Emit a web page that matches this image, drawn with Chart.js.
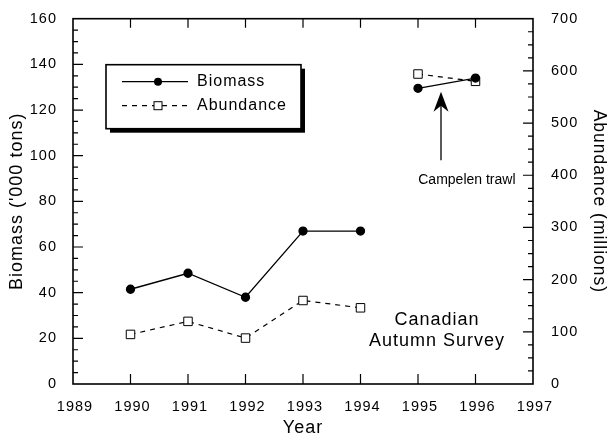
<!DOCTYPE html>
<html>
<head>
<meta charset="utf-8">
<script src="https://cdn.jsdelivr.net/npm/chart.js@4.4.1/dist/chart.umd.min.js"></script>
<style>
  html, body { margin: 0; padding: 0; background: #fff; }
  #wrap { width: 610px; height: 438px; }
</style>
</head>
<body>
<div id="wrap"><canvas id="chart" width="610" height="438"></canvas></div>
<script>
const years = [1990, 1991, 1992, 1993, 1994, 1995, 1996]
const biomass = [41.5, 48.5, 38, 67, 67, 129.5, 134]
const abundance = [95, 120, 88, 160, 146, 594, 580]
const yearTicks = [1989, 1990, 1991, 1992, 1993, 1994, 1995, 1996, 1997]
const biomassTicks = [0, 20, 40, 60, 80, 100, 120, 140, 160]
const abundanceTicks = [0, 100, 200, 300, 400, 500, 600, 700]
// last index of the Canadian autumn survey, the Campelen trawl points follow it
const surveyEnd = 4

const FONT = "'Liberation Sans', Arial, sans-serif"

// no line between the two survey series
const gapSegment = ctx => ctx.p0DataIndex === surveyEnd ? 'rgba(0,0,0,0)' : '#000'

const setTicks = list => scale => { scale.ticks = list.map(v => ({ value: v })) }

// box frame with inward tick marks, like the printed figure
const frameTicks = {
  id: 'frameTicks',
  beforeDraw(chart) {
    chart.ctx.letterSpacing = '1px'
  },
  afterDatasetsDraw(chart) {
    const { ctx, chartArea: a, scales } = chart
    ctx.save()
    ctx.strokeStyle = '#000'
    ctx.lineWidth = 1.2
    ctx.beginPath()
    yearTicks.slice(1, -1).forEach(v => {
      const x = scales.x.getPixelForValue(v)
      ctx.moveTo(x, a.bottom); ctx.lineTo(x, a.bottom - 10)
      ctx.moveTo(x, a.top); ctx.lineTo(x, a.top + 9)
    })
    for (let v = 5; v < 160; v += 5) {
      const y = scales.y.getPixelForValue(v)
      ctx.moveTo(a.left, y); ctx.lineTo(a.left + (v % 20 === 0 ? 10 : 5), y)
    }
    for (let v = 25; v < 700; v += 25) {
      const y = scales.y1.getPixelForValue(v)
      ctx.moveTo(a.right, y); ctx.lineTo(a.right - (v % 100 === 0 ? 10 : 5), y)
    }
    ctx.stroke()
    ctx.lineWidth = 1.6
    ctx.strokeRect(a.left, a.top, a.right - a.left, a.bottom - a.top)
    ctx.restore()
  }
}

// legend box with drop shadow and the two notes
const notes = {
  id: 'notes',
  afterDraw(chart) {
    const { ctx, chartArea: a, scales } = chart
    const x0 = a.left + 33, y0 = a.top + 46, w = 195, h = 64
    ctx.save()
    ctx.fillStyle = '#000'
    ctx.fillRect(x0 + 4, y0 + 4, w, h)
    ctx.fillStyle = '#fff'
    ctx.fillRect(x0, y0, w, h)
    ctx.strokeStyle = '#000'
    ctx.lineWidth = 1.6
    ctx.strokeRect(x0, y0, w, h)

    ctx.font = '16px ' + FONT
    ctx.textBaseline = 'middle'
    ctx.textAlign = 'left'
    chart.data.datasets.forEach((ds, i) => {
      const y = y0 + 17 + i * 24
      ctx.lineWidth = 1.2
      ctx.setLineDash(ds.borderDash || [])
      ctx.beginPath(); ctx.moveTo(x0 + 16, y); ctx.lineTo(x0 + 82, y); ctx.stroke()
      ctx.setLineDash([])
      const mx = x0 + 52
      if (ds.pointStyle === 'rect') {
        ctx.fillStyle = '#fff'
        ctx.fillRect(mx - 4, y - 4, 8, 8)
        ctx.lineWidth = 1
        ctx.strokeRect(mx - 4, y - 4, 8, 8)
      } else {
        ctx.fillStyle = '#000'
        ctx.beginPath(); ctx.arc(mx, y, 4, 0, Math.PI * 2); ctx.fill()
      }
      ctx.fillStyle = '#000'
      ctx.fillText(ds.label, x0 + 91, y)
    })

    const X = scales.x, Y = scales.y
    // arrow pointing at the Campelen trawl points
    const ax = X.getPixelForValue(1995.4)
    const tip = Y.getPixelForValue(128)
    const base = Y.getPixelForValue(98)
    ctx.lineWidth = 1.3
    ctx.beginPath(); ctx.moveTo(ax, base); ctx.lineTo(ax, tip + 12); ctx.stroke()
    ctx.beginPath()
    ctx.moveTo(ax, tip)
    ctx.lineTo(ax - 7.5, tip + 20)
    ctx.lineTo(ax, tip + 14)
    ctx.lineTo(ax + 7.5, tip + 20)
    ctx.closePath(); ctx.fill()

    ctx.textAlign = 'center'
    ctx.letterSpacing = '0px'
    ctx.font = '14px ' + FONT
    ctx.fillText('Campelen trawl', X.getPixelForValue(1995.85), Y.getPixelForValue(89.5))
    ctx.letterSpacing = '1px'
    ctx.font = '18px ' + FONT
    ctx.fillText('Canadian', X.getPixelForValue(1995.33), Y.getPixelForValue(27.8))
    ctx.fillText('Autumn Survey', X.getPixelForValue(1995.33), Y.getPixelForValue(19))
    ctx.restore()
  }
}

new Chart(document.getElementById('chart'), {
  type: 'line',
  data: {
    datasets: [{
      label: 'Biomass',
      data: years.map((x, i) => ({ x, y: biomass[i] })),
      yAxisID: 'y',
      borderColor: '#000',
      borderWidth: 1.3,
      pointStyle: 'circle',
      pointRadius: 4,
      pointBackgroundColor: '#000',
      pointBorderColor: '#000',
      segment: { borderColor: gapSegment }
    }, {
      label: 'Abundance',
      data: years.map((x, i) => ({ x, y: abundance[i] })),
      yAxisID: 'y1',
      borderColor: '#000',
      borderWidth: 1.2,
      borderDash: [5, 5],
      pointStyle: 'rect',
      pointRadius: 6,
      pointBorderWidth: 1,
      pointBackgroundColor: '#fff',
      pointBorderColor: '#000',
      segment: { borderColor: gapSegment }
    }]
  },
  options: {
    responsive: false,
    animation: false,
    layout: { padding: { top: 16, left: 0, right: 0, bottom: 0 } },
    plugins: { legend: { display: false }, tooltip: { enabled: false } },
    scales: {
      x: {
        type: 'linear',
        min: 1989,
        max: 1997,
        afterBuildTicks: setTicks(yearTicks),
        afterFit: s => { s.height = 54 },
        grid: { display: false },
        border: { display: false },
        ticks: { color: '#000', padding: 6, labelOffset: 2, maxRotation: 0, font: { family: FONT, size: 14.5 }, callback: v => String(v) },
        title: { display: true, text: 'Year', color: '#000', font: { family: FONT, size: 18, lineHeight: 1.1 }, padding: { top: 0, bottom: 0 } }
      },
      y: {
        position: 'left',
        min: 0,
        max: 160,
        afterBuildTicks: setTicks(biomassTicks),
        afterFit: s => { s.width = 73 },
        grid: { display: false },
        border: { display: false },
        ticks: { color: '#000', padding: 8, font: { family: FONT, size: 14.5 } },
        title: { display: true, text: "Biomass ('000 tons)", color: '#000', font: { family: FONT, size: 18 }, padding: { top: 6, bottom: 0 } }
      },
      y1: {
        position: 'right',
        min: 0,
        max: 700,
        afterBuildTicks: setTicks(abundanceTicks),
        afterFit: s => { s.width = 77 },
        grid: { display: false },
        border: { display: false },
        ticks: { color: '#000', padding: 10, font: { family: FONT, size: 14.5 } },
        title: { display: true, text: 'Abundance (millions)', color: '#000', font: { family: FONT, size: 17.5 }, padding: { top: 1, bottom: 0 } }
      }
    }
  },
  plugins: [frameTicks, notes]
})
</script>
</body>
</html>
